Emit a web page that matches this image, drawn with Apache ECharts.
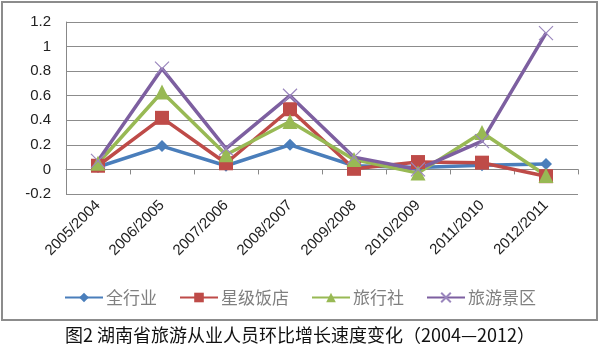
<!DOCTYPE html>
<html><head><meta charset="utf-8">
<script src="https://cdn.jsdelivr.net/npm/echarts@6/dist/echarts.min.js"></script>
<style>html,body{margin:0;padding:0;background:#fff}#c{width:600px;height:345px}</style>
</head><body><div id="c"></div>
<script>
var categories = ['2005/2004','2006/2005','2007/2006','2008/2007','2009/2008','2010/2009','2011/2010','2012/2011'];
var seriesNames = ['全行业','星级饭店','旅行社','旅游景区'];
var allIndustry = [0.02, 0.19, 0.03, 0.20, 0.03, 0.015, 0.035, 0.045];
var starHotel   = [0.03, 0.42, 0.05, 0.49, 0.005, 0.06, 0.055, -0.055];
var travelAgency= [0.05, 0.63, 0.12, 0.39, 0.08, -0.03, 0.30, -0.05];
var scenicArea  = [0.07, 0.82, 0.17, 0.60, 0.10, 0.00, 0.23, 1.11];
var yTicks = {min: -0.2, max: 1.2, interval: 0.2};
var titleText = '图2 湖南省旅游从业人员环比增长速度变化（2004—2012）';

var colors = ['#4a7ebb', '#be4b48', '#98b954', '#7d5fa0'];
var chart = echarts.init(document.getElementById('c'));
function mk(name, data, color, symbol, size, extra) {
  var s = {
    name: name, type: 'line', data: data, symbol: symbol, symbolSize: size,
    lineStyle: {color: color, width: 3.5},
    itemStyle: {color: color},
    z: 3
  };
  if (extra) Object.assign(s, extra);
  return s;
}
chart.setOption({
  animation: false,
  color: colors,
  graphic: [{type: 'rect', shape: {x: 2, y: 2, width: 595, height: 318},
    style: {fill: 'none', stroke: '#8c8c8c', lineWidth: 2}, z: 0}],
  title: {text: titleText, left: 'center', top: 321,
    textStyle: {fontFamily: 'Noto Sans CJK SC', fontSize: 18, fontWeight: 'normal', color: '#111'}},
  grid: {left: 66, right: 22, top: 22, bottom: 151},
  legend: {
    data: seriesNames, top: 284, left: 'center', itemWidth: 38, itemHeight: 12, itemGap: 22,
    textStyle: {fontFamily: 'Noto Sans CJK SC', fontSize: 17, color: '#808080', padding: [0,0,0,-2]}
  },
  xAxis: {
    type: 'category', data: categories, boundaryGap: true,
    axisLine: {lineStyle: {color: '#888', width: 1}},
    axisTick: {show: true, length: 5, lineStyle: {color: '#888'}},
    axisLabel: {rotate: 45, interval: 0, fontFamily: 'Liberation Sans', fontSize: 15, color: '#222', margin: 9}
  },
  yAxis: {
    type: 'value', min: yTicks.min, max: yTicks.max, interval: yTicks.interval,
    axisLine: {show: true, lineStyle: {color: '#888'}},
    axisTick: {show: false},
    splitLine: {lineStyle: {color: '#8c8c8c', width: 1}},
    axisLabel: {fontFamily: 'Liberation Sans', fontSize: 15, color: '#222', margin: 15,
      formatter: function (v) { return String(Math.round(v * 10) / 10); }}
  },
  series: [
    mk(seriesNames[0], allIndustry, colors[0], 'diamond', 12),
    mk(seriesNames[1], starHotel, colors[1], 'rect', 14),
    mk(seriesNames[2], travelAgency, colors[2], 'triangle', 15),
    mk(seriesNames[3], scenicArea, colors[3], 'path://M0,0L10,10M10,0L0,10', 14,
      {itemStyle: {color: 'none', borderColor: '#9a86bd', borderWidth: 1.2}})
  ]
});
</script></body></html>
